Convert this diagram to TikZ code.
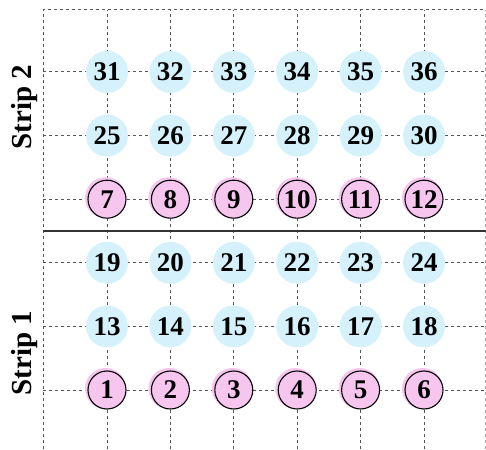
\documentclass[tikz,border=0pt]{standalone}
\usepackage{fontspec}
\setmainfont{Liberation Serif}
\usepackage{tikz}
\usetikzlibrary{calc}
\definecolor{cBlue}{HTML}{D5F2FC}
\definecolor{cPink}{HTML}{F6C6EE}
\definecolor{cGrid}{HTML}{555555}

\begin{document}
\begin{tikzpicture}[x=1pt, y=1pt,
  gridline/.style={draw=cGrid, line width=1pt, dash pattern=on 3pt off 3pt},
  bl/.style={circle, fill=cBlue, minimum size=42pt, inner sep=0pt, font=\fontsize{27}{27}\selectfont\bfseries},
  pk/.style={circle, draw=black, line width=1.1pt, fill=cPink, minimum size=38pt, inner sep=0pt, font=\fontsize{27}{27}\selectfont\bfseries},
  strip/.style={rotate=90, font=\fontsize{29}{29}\selectfont\bfseries}
]
\useasboundingbox (0,0) rectangle (486,449);
% grid
\draw[gridline] (43,0) -- (43,439) -- (485,439);
\draw[gridline, draw=cGrid!50] (485,0) -- (485,439);
\foreach \i in {0,...,5} {
  \draw[gridline] ({107+63.4*\i},0) -- ({107+63.4*\i},439);
  \draw[gridline] (43,{59+63.6*\i}) -- (485,{59+63.6*\i});
}
\draw[line width=1.6pt, draw=black!80] (43,218) -- (486,218);
% strip 1: rows 1-6, 13-18, 19-24
\foreach \i in {0,...,5} {
  \pgfmathtruncatemacro{\a}{\i+1}
  \pgfmathtruncatemacro{\b}{\i+13}
  \pgfmathtruncatemacro{\c}{\i+19}
  \fill[cPink] ({107+63.4*\i-1.5},{59+1.5}) circle (20.5);
  \node[pk] (n\a) at ({107+63.4*\i},59) {\a};
  \node[bl] (n\b) at ({107+63.4*\i},{59+63.6}) {\b};
  \node[bl] (n\c) at ({107+63.4*\i},{59+2*63.6}) {\c};
}
% strip 2: rows 7-12, 25-30, 31-36
\foreach \i in {0,...,5} {
  \pgfmathtruncatemacro{\a}{\i+7}
  \pgfmathtruncatemacro{\b}{\i+25}
  \pgfmathtruncatemacro{\c}{\i+31}
  \fill[cPink] ({107+63.4*\i-1.5},{59+3*63.6+1.5}) circle (20.5);
  \node[pk] (n\a) at ({107+63.4*\i},{59+3*63.6}) {\a};
  \node[bl] (n\b) at ({107+63.4*\i},{59+4*63.6}) {\b};
  \node[bl] (n\c) at ({107+63.4*\i},{59+5*63.6}) {\c};
}
\node[strip] (s1) at (25,96) {Strip 1};
\node[strip] (s2) at (25,342) {Strip 2};
\end{tikzpicture}
\end{document}
